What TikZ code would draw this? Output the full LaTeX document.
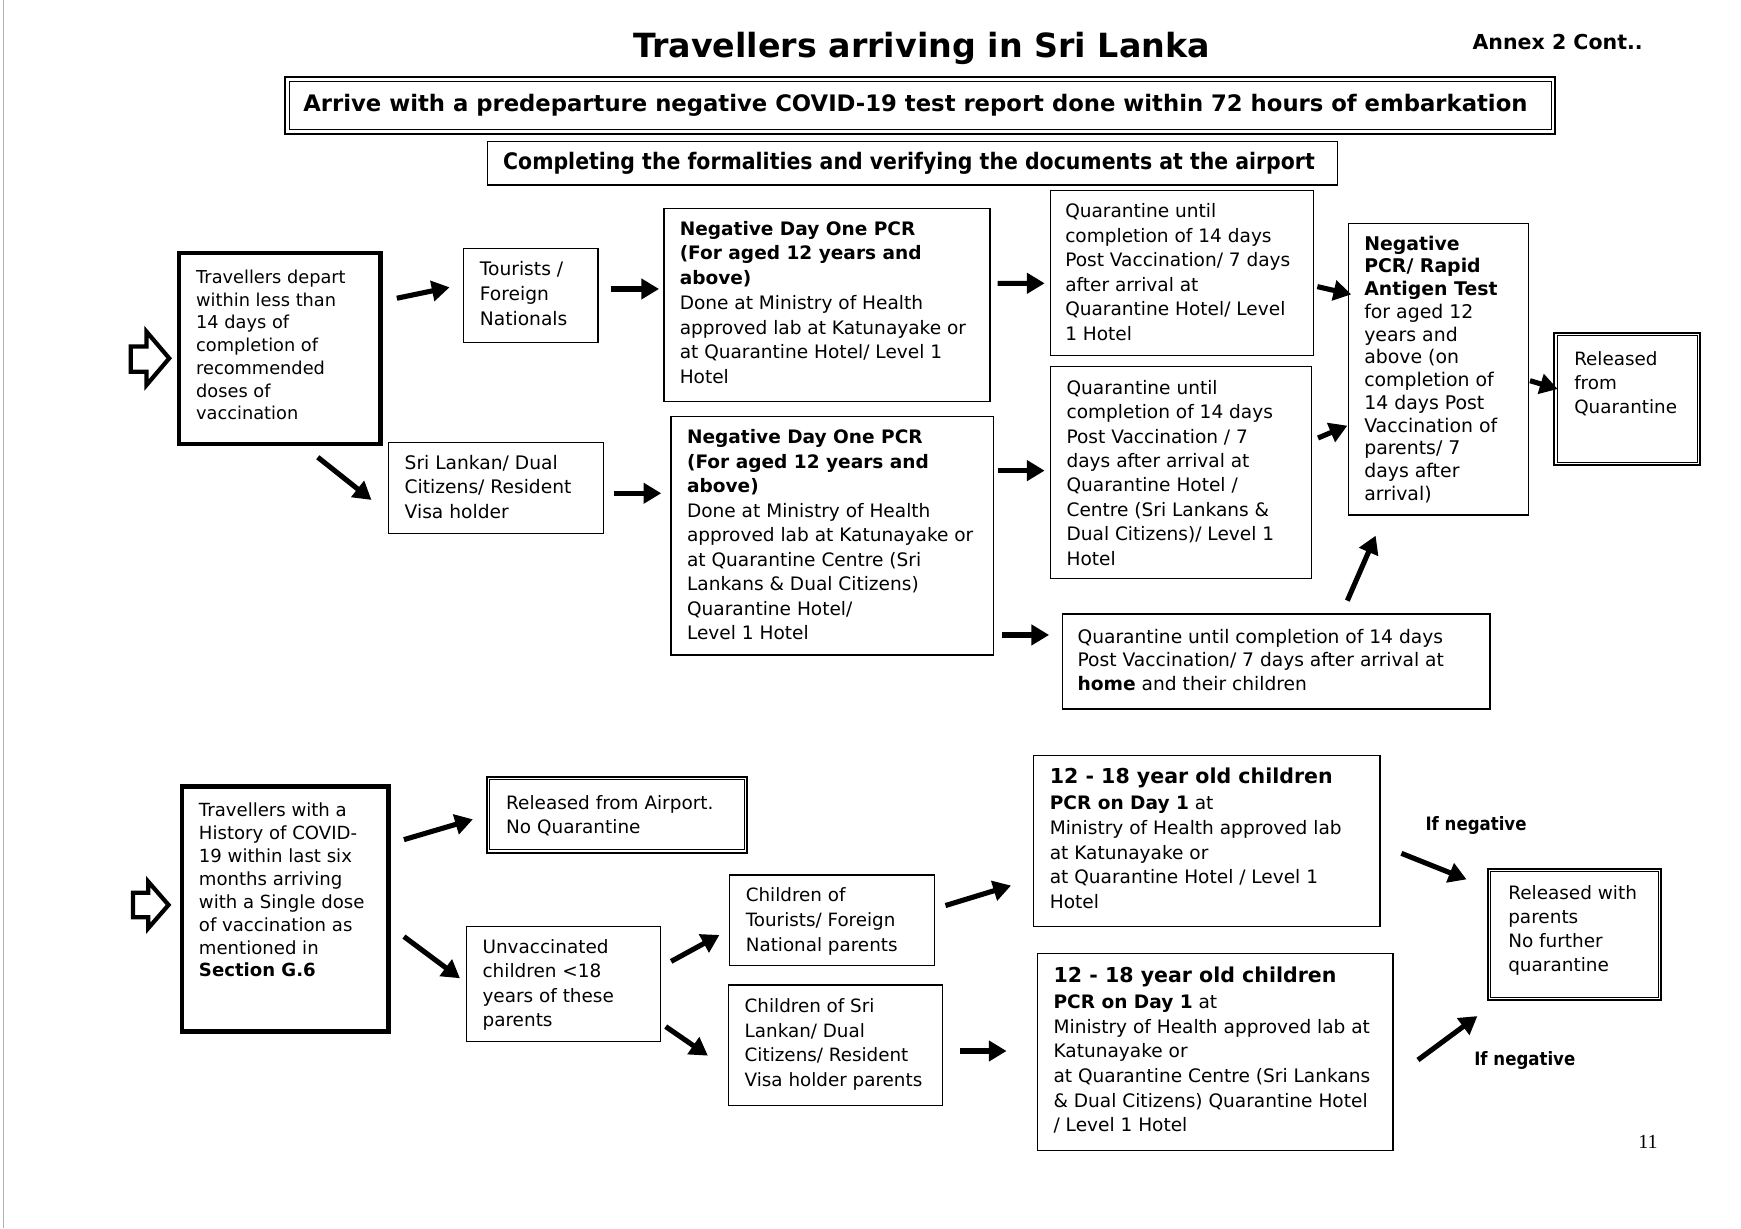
\documentclass[tikz,border=0pt]{standalone}
\usepackage{fontspec}
\setmainfont{DejaVu Sans}
\newfontfamily\tah[FakeStretch=0.9]{DejaVu Sans}
\newfontfamily\numfont{Liberation Serif}
\usetikzlibrary{arrows.meta}
\newcommand\fs[2]{\fontsize{#1}{#2}\selectfont}
\newcommand\mkbox[6]{\node[#2, minimum width=#5pt, minimum height=#6pt] (#1) at (#3,#4) {};}
\newcommand\inner[2]{\draw[line width=0.9pt] ([shift={(#2,#2)}]#1.north west) rectangle ([shift={(-#2,-#2)}]#1.south east);}
\newcommand\conn[6]{\draw[arr] ([shift={(#2,#3)}]#1.center) -- ([shift={(#5,#6)}]#4.center);}
\newcommand\st{\rule{0pt}{16pt}}
\begin{document}
\begin{tikzpicture}[x=1pt,y=-1pt,
  bx/.style={draw, line width=1.1pt, anchor=north west, inner sep=0pt},
  thickbox/.style={bx, line width=4pt},
  dbl/.style={bx, line width=1.8pt},
  txt/.style={anchor=north west, inner sep=0pt, align=left},
  lbl/.style={anchor=base west, inner sep=0pt},
  arr/.style={line width=4.6pt, -{Triangle[length=16pt,width=18pt]}},
  bigarr/.style={draw, line width=3.8pt, line join=miter}]
\useasboundingbox (0,0) rectangle (1568,1106);
\fill[white] (0,0) rectangle (1568,1106);
\draw[gray!60, line width=1pt] (3,0) -- (3,1106);

% header
\node[lbl, font=\bfseries\fs{30}{36}] (title) at (570,52) {Travellers arriving in Sri Lanka};
\node[lbl, font=\bfseries\fs{18.5}{22}] (annex) at (1326,45) {Annex 2 Cont..};
\mkbox{arrive}{dbl}{256}{68.5}{1144}{51}
\inner{arrive}{4.5}
\node[lbl, font=\bfseries\fs{20.47}{24}] (arrivet) at (273,100) {Arrive with a predeparture negative COVID-19 test report done within 72 hours of embarkation};
\mkbox{compl}{bx}{438.6}{127}{765.4}{39}
\node[lbl, font=\tah\bfseries\fs{20.47}{24}] (complt) at (453,153) {Completing the formalities and verifying the documents at the airport};

% big open arrows
\draw[bigarr] (117.8,312) -- (132,312) -- (132,298.7) -- (152.4,322.7) -- (132,346.7) -- (132,334.8) -- (117.8,334.8) -- cycle;
\draw[bigarr] (119.7,804) -- (133.5,804) -- (133.5,794) -- (151.8,815) -- (133.5,836) -- (133.5,826) -- (119.7,826) -- cycle;

% upper section boxes
\mkbox{T1}{thickbox}{159}{226}{181.5}{172}
\node[txt, font=\fs{16}{20.5}] (T1t) at (176.5,239) {\st Travellers depart\\within less than\\14 days of\\completion of\\recommended\\doses of\\vaccination};
\mkbox{Tour}{bx}{417}{223}{121}{85}
\node[txt, font=\fs{16.8}{22.5}] (Tourt) at (432,231.7) {\st Tourists /\\Foreign\\Nationals};
\mkbox{N1}{bx}{597.5}{187}{293.5}{174}
\node[txt, font=\fs{16.7}{22.25}] (N1t) at (612,195.7) {\st\textbf{Negative Day One PCR}\\\textbf{(For aged 12 years and}\\\textbf{above)}\\Done at Ministry of Health\\approved lab at Katunayake or\\at Quarantine Hotel/ Level 1\\Hotel};
\mkbox{Q1}{bx}{945.5}{171}{237.2}{148.7}
\node[txt, font=\fs{16.7}{22.1}] (Q1t) at (959.2,179.7) {\st Quarantine until\\completion of 14 days\\Post Vaccination/ 7 days\\after arrival at\\Quarantine Hotel/ Level\\1 Hotel};
\mkbox{NP}{bx}{1213.8}{200.5}{162.2}{262.7}
\node[txt, font=\fs{17}{20.46}] (NPt) at (1228.5,209.2) {\st\textbf{Negative}\\\textbf{PCR/ Rapid}\\\textbf{Antigen Test}\\for aged 12\\years and\\above (on\\completion of\\14 days Post\\Vaccination of\\parents/ 7\\days after\\arrival)};
\mkbox{Rel}{dbl}{1399}{298.7}{131.3}{119.2}
\inner{Rel}{3.5}
\node[txt, font=\fs{16.5}{21.8}] (Relt) at (1417.6,312.7) {\st Released\\from\\Quarantine};
\mkbox{SL}{bx}{349.4}{397.8}{193.6}{82}
\node[txt, font=\fs{16.8}{22.1}] (SLt) at (364.3,406.5) {\st Sri Lankan/ Dual\\Citizens/ Resident\\Visa holder};
\mkbox{N2}{bx}{603.8}{374.7}{290.2}{214.6}
\node[txt, font=\fs{16.7}{22.1}] (N2t) at (618.6,383.3) {\st\textbf{Negative Day One PCR}\\\textbf{(For aged 12 years and}\\\textbf{above)}\\Done at Ministry of Health\\approved lab at Katunayake or\\at Quarantine Centre (Sri\\Lankans \& Dual Citizens)\\Quarantine Hotel/\\Level 1 Hotel};
\mkbox{Q2}{bx}{945.5}{329.6}{235.2}{190.7}
\node[txt, font=\fs{16.7}{22}] (Q2t) at (960.4,338.9) {\st Quarantine until\\completion of 14 days\\Post Vaccination / 7\\days after arrival at\\Quarantine Hotel /\\Centre (Sri Lankans \&\\Dual Citizens)/ Level 1\\Hotel};
\mkbox{QH}{bx}{956.2}{552.4}{385.1}{85.6}
\node[txt, font=\fs{16.8}{21.1}] (QHt) at (970.3,563.4) {\st Quarantine until completion of 14 days\\Post Vaccination/ 7 days after arrival at\\\textbf{home} and their children};

% lower section boxes
\mkbox{T2}{thickbox}{161.7}{706.4}{186.3}{220.6}
\node[txt, font=\fs{16.3}{20.6}] (T2t) at (179,719.5) {\st Travellers with a\\History of COVID-\\19 within last six\\months arriving\\with a Single dose\\of vaccination as\\mentioned in\\\textbf{Section G.6}};
\mkbox{RA}{dbl}{437.4}{698.6}{234.7}{68.4}
\inner{RA}{3.5}
\node[txt, font=\fs{16.6}{21.2}] (RAt) at (455.7,713) {\st Released from Airport.\\No Quarantine};
\mkbox{UC}{bx}{419.6}{833.7}{174.4}{103.9}
\node[txt, font=\fs{16.6}{22}] (UCt) at (434.4,842.6) {\st Unvaccinated\\children <18\\years of these\\parents};
\mkbox{CT}{bx}{656.8}{787.5}{184.2}{81.6}
\node[txt, font=\fs{16.5}{22.2}] (CTt) at (671.5,796.1) {\st Children of\\Tourists/ Foreign\\National parents};
\mkbox{CS}{bx}{655.8}{886.6}{192.6}{108.4}
\node[txt, font=\fs{16.5}{22.2}] (CSt) at (670.5,895.8) {\st Children of Sri\\Lankan/ Dual\\Citizens/ Resident\\Visa holder parents};
\mkbox{K1}{bx}{930.5}{680}{311.9}{153.7}
\node[lbl, font=\bfseries\fs{18.5}{22}] (K1h) at (945.3,705.5) {12 - 18 year old children};
\node[txt, font=\fs{16.7}{22.3}] (K1t) at (945.3,713) {\st\textbf{PCR on Day 1} at\\Ministry of Health approved lab\\at Katunayake or\\at Quarantine Hotel / Level 1\\Hotel};
\mkbox{K2}{bx}{933.9}{858}{320.1}{177.8}
\node[lbl, font=\bfseries\fs{18.5}{22}] (K2h) at (948.7,885) {12 - 18 year old children};
\node[txt, font=\fs{16.7}{22.2}] (K2t) at (948.7,892.2) {\st\textbf{PCR on Day 1} at\\Ministry of Health approved lab at\\Katunayake or\\at Quarantine Centre (Sri Lankans\\\& Dual Citizens) Quarantine Hotel\\/ Level 1 Hotel};
\mkbox{RW}{dbl}{1339.1}{781.5}{156.2}{118.5}
\inner{RW}{3.5}
\node[txt, font=\fs{16.6}{21.7}] (RWt) at (1358.2,794) {\st Released with\\parents\\No further\\quarantine};
\node[lbl, font=\tah\bfseries\fs{16.6}{20}] (neg1) at (1283.7,748.1) {If negative};
\node[lbl, font=\tah\bfseries\fs{16.6}{20}] (neg2) at (1327.6,959.2) {If negative};
\node[lbl, font=\numfont\fs{18}{20}] (page) at (1475.3,1034.3) {11};

% connectors
\conn{T1}{105.65}{-45.4}{Tour}{-73.1}{-7.3}
\conn{Tour}{71.9}{-5.8}{N1}{-151.25}{-14.3}
\conn{N1}{153.75}{-19.4}{Q1}{-123.8}{9.25}
\conn{Q1}{121.8}{12.25}{NP}{-78.4}{-67.25}
\conn{NP}{82.5}{10.45}{Rel}{-62.65}{-8.8}
\conn{T1}{34.45}{97.8}{SL}{-112.2}{10.9}
\conn{SL}{106.1}{4.9}{N2}{-153.9}{-38.3}
\conn{N2}{149.1}{-58.7}{Q2}{-122.8}{-1.65}
\conn{Q2}{123.4}{-31.05}{NP}{-82}{50.95}
\conn{N2}{153.2}{89.3}{QH}{-204.45}{-23.9}
\conn{QH}{64.15}{-54.8}{NP}{-56.5}{150.05}
\conn{T2}{106.95}{-62.5}{RA}{-129.75}{4.2}
\conn{T2}{106.95}{24.8}{UC}{-93.1}{-5.15}
\conn{UC}{97.1}{-20.35}{CT}{-101.5}{13.2}
\conn{UC}{92.2}{38.35}{CS}{-115.1}{9.4}
\conn{CT}{102.1}{-13.3}{K1}{-176.45}{40.15}
\conn{CS}{111.9}{5.2}{K2}{-187.95}{-0.9}
\conn{K1}{175.15}{11.15}{RW}{-97.3}{-49.65}
\conn{K2}{182.55}{7.2}{RW}{-87.5}{73.45}
\end{tikzpicture}
\end{document}
